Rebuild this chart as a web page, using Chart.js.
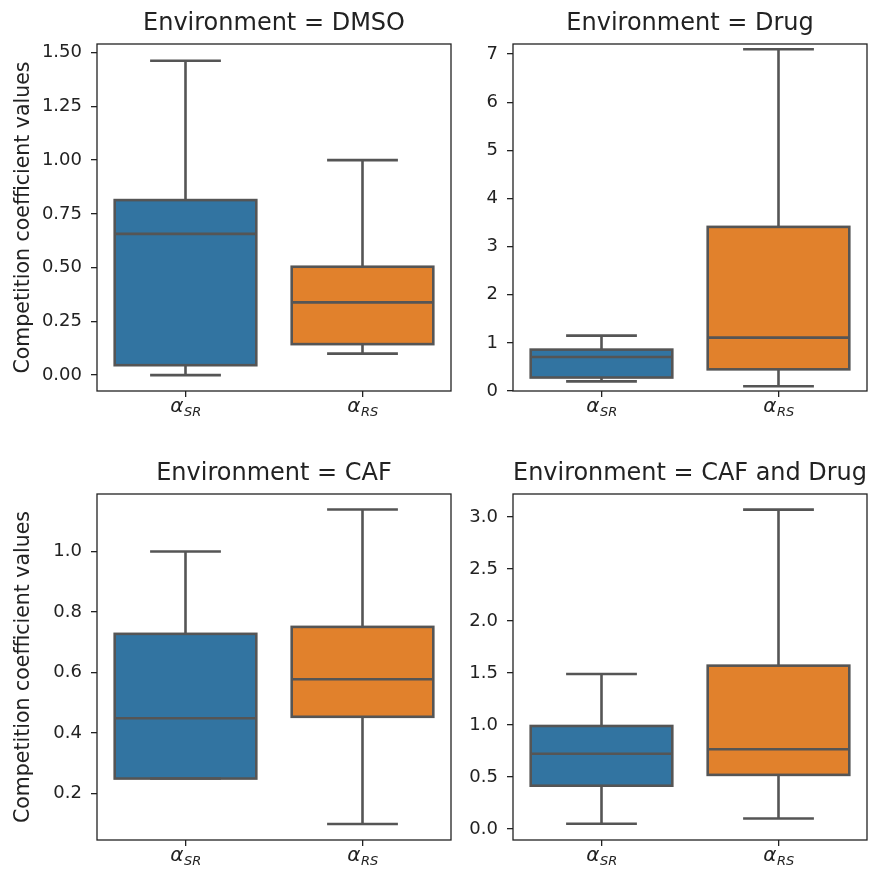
<!DOCTYPE html>
<html>
<head>
<meta charset="utf-8">
<script src="https://cdn.jsdelivr.net/npm/chart.js@4"></script>
<style>
  body { margin: 0; background: #fff; }
  #fig { position: relative; width: 875px; height: 871px; }
  .panel { position: absolute; }
</style>
</head>
<body>
<div id="fig">
  <div class="panel" style="left:0;top:0;width:460px;height:450px"><canvas id="c0"></canvas></div>
  <div class="panel" style="left:460px;top:0;width:415px;height:450px"><canvas id="c1"></canvas></div>
  <div class="panel" style="left:0;top:450px;width:460px;height:421px"><canvas id="c2"></canvas></div>
  <div class="panel" style="left:460px;top:450px;width:415px;height:421px"><canvas id="c3"></canvas></div>
</div>
<script>
// Dados
const environments = ['DMSO', 'Drug', 'CAF', 'CAF and Drug'];
const groups = ['SR', 'RS']; // subscrito de alfa
const whiskerLow  = [[0.00, 0.10], [0.20, 0.10], [0.25, 0.10], [0.05, 0.10]];
const quartile1   = [[0.046, 0.144], [0.28, 0.45], [0.25, 0.454], [0.416, 0.52]];
const medians     = [[0.657, 0.338], [0.707, 1.11], [0.449, 0.578], [0.723, 0.766]];
const quartile3   = [[0.814, 0.504], [0.86, 3.41], [0.728, 0.751], [0.99, 1.57]];
const whiskerHigh = [[1.462, 1.00], [1.15, 7.10], [1.00, 1.139], [1.49, 3.07]];
const yTicks = [
    [0, 0.25, 0.5, 0.75, 1, 1.25, 1.5],
    [0, 1, 2, 3, 4, 5, 6, 7],
    [0.2, 0.4, 0.6, 0.8, 1.0],
    [0, 0.5, 1, 1.5, 2, 2.5, 3]
];
const yLimits = [[-0.074, 1.54], [0, 7.21], [0.047, 1.19], [-0.106, 3.22]];
const yDecimals = [2, 0, 1, 1];

const boxColors = ['#3274a1', '#e1812c'];
const lineGray = '#555555';
const dark = '#222222';
const fontFamily = '"DejaVu Sans", sans-serif';

// Bigodes, contorno das caixas, medianas, moldura e rótulos do eixo x
const boxPlugin = {
    id: 'boxExtras',
    afterDatasetsDraw(chart) {
        const p = chart.options.plugins.boxExtras;
        const ctx = chart.ctx;
        const xs = chart.scales.x, ys = chart.scales.y;
        const meta = chart.getDatasetMeta(0);
        ctx.save();
        ctx.strokeStyle = lineGray;
        ctx.lineWidth = 2.6;
        ctx.lineCap = 'butt';
        groups.forEach((g, i) => {
            const el = meta.data[i];
            const cx = xs.getPixelForValue(i);
            const half = el.width / 2;
            const capHalf = half / 2;
            const yLo = ys.getPixelForValue(whiskerLow[p.idx][i]);
            const yQ1 = ys.getPixelForValue(quartile1[p.idx][i]);
            const yMed = ys.getPixelForValue(medians[p.idx][i]);
            const yQ3 = ys.getPixelForValue(quartile3[p.idx][i]);
            const yHi = ys.getPixelForValue(whiskerHigh[p.idx][i]);
            ctx.beginPath();
            ctx.moveTo(cx, yQ3); ctx.lineTo(cx, yHi);
            ctx.moveTo(cx - capHalf, yHi); ctx.lineTo(cx + capHalf, yHi);
            ctx.moveTo(cx, yQ1); ctx.lineTo(cx, yLo);
            ctx.moveTo(cx - capHalf, yLo); ctx.lineTo(cx + capHalf, yLo);
            ctx.stroke();
            ctx.strokeRect(cx - half, yQ3, half * 2, yQ1 - yQ3);
            ctx.beginPath();
            ctx.moveTo(cx - half, yMed); ctx.lineTo(cx + half, yMed);
            ctx.stroke();
        });
        // moldura
        const a = chart.chartArea;
        ctx.strokeStyle = dark;
        ctx.lineWidth = 1.3;
        ctx.strokeRect(a.left, a.top, a.right - a.left, a.bottom - a.top);
        // rótulos alfa com subscrito
        ctx.fillStyle = dark;
        ctx.textBaseline = 'alphabetic';
        ctx.textAlign = 'left';
        groups.forEach((g, i) => {
            const cx = xs.getPixelForValue(i);
            ctx.font = 'italic 20px ' + fontFamily;
            const wA = ctx.measureText('α').width;
            ctx.font = 'italic 13px ' + fontFamily;
            const wS = ctx.measureText(g).width;
            const x0 = cx - (wA + wS) / 2;
            const base = a.bottom + 21;
            ctx.font = 'italic 20px ' + fontFamily;
            ctx.fillText('α', x0, base);
            ctx.font = 'italic 13px ' + fontFamily;
            ctx.fillText(g, x0 + wA + 0.5, base + 4);
        });
        ctx.restore();
    }
};

function criarPainel(idx) {
    const left = idx % 2 === 0;
    const top = idx < 2;
    const ctx = document.getElementById('c' + idx);
    new Chart(ctx, {
        type: 'bar',
        data: {
            labels: groups.map(g => 'α' + g),
            datasets: [{
                data: groups.map((g, i) => [quartile1[idx][i], quartile3[idx][i]]),
                backgroundColor: boxColors,
                borderWidth: 0,
                barPercentage: 0.8,
                categoryPercentage: 1.0
            }]
        },
        options: {
            responsive: true,
            maintainAspectRatio: false,
            animation: false,
            layout: {
                padding: { left: 0, right: left ? 9 : 8, top: 0, bottom: 0 }
            },
            plugins: {
                legend: { display: false },
                tooltip: { enabled: false },
                title: {
                    display: true,
                    text: 'Environment = ' + environments[idx],
                    fullSize: false,
                    color: dark,
                    font: { family: fontFamily, size: 24, weight: 'normal', lineHeight: 1.2 },
                    padding: { top: 9, bottom: 6.2 }
                },
                boxExtras: { idx: idx }
            },
            scales: {
                x: {
                    grid: {
                        display: true,
                        offset: false,
                        drawOnChartArea: false,
                        drawTicks: true,
                        tickLength: 6,
                        color: dark,
                        lineWidth: 1.3
                    },
                    border: { display: false },
                    ticks: { display: false },
                    afterFit: function(scale) { scale.height = top ? 59 : 31; }
                },
                y: {
                    min: yLimits[idx][0],
                    max: yLimits[idx][1],
                    afterBuildTicks: function(scale) {
                        scale.ticks = yTicks[idx].map(v => ({ value: v }));
                    },
                    grid: {
                        display: true,
                        drawOnChartArea: false,
                        drawTicks: true,
                        tickLength: 6,
                        color: dark,
                        lineWidth: 1.3
                    },
                    border: { display: false },
                    ticks: {
                        padding: 9,
                        color: dark,
                        font: { family: fontFamily, size: 18 },
                        callback: function(value) {
                            return Number(value).toFixed(yDecimals[idx]);
                        }
                    },
                    title: {
                        display: left,
                        text: 'Competition coefficient values',
                        color: dark,
                        font: { family: fontFamily, size: 20.5, lineHeight: 1.2 },
                        padding: { top: 11, bottom: 0 }
                    },
                    afterFit: function(scale) { scale.width = left ? 97 : 53; }
                }
            }
        },
        plugins: [boxPlugin]
    });
}

environments.forEach((e, i) => criarPainel(i));
</script>
</body>
</html>
